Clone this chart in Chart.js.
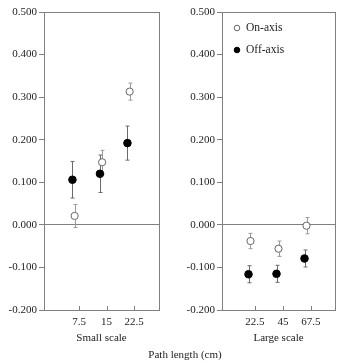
<!DOCTYPE html>
<html>
<head>
<meta charset="utf-8">
<script src="https://cdn.jsdelivr.net/npm/chart.js@4.4.1/dist/chart.umd.min.js"></script>
<style>
  body { margin: 0; background: #fff; }
  #wrap { position: relative; width: 340px; height: 364px; }
  #small { position: absolute; left: 0; top: 0; }
  #large { position: absolute; left: 170px; top: 0; }
  #xlab {
    position: absolute; left: 130px; top: 348px; width: 110px; text-align: center;
    font: 11px "Liberation Serif", "Times New Roman", serif; color: #222;
  }
</style>
</head>
<body>
<div id="wrap">
  <canvas id="small" width="170" height="364"></canvas>
  <canvas id="large" width="170" height="364"></canvas>
  <div id="xlab">Path length (cm)</div>
</div>
<script>
const smallLengths = [7.5, 15, 22.5];
const smallOn = [0.021, 0.147, 0.313];
const smallOnErr = [0.027, 0.028, 0.020];
const smallOff = [0.106, 0.120, 0.192];
const smallOffErr = [0.043, 0.044, 0.040];

const largeLengths = [22.5, 45, 67.5];
const largeOn = [-0.038, -0.056, -0.002];
const largeOnErr = [0.018, 0.018, 0.019];
const largeOff = [-0.116, -0.115, -0.079];
const largeOffErr = [0.020, 0.020, 0.020];

const serif = '"Liberation Serif", "Times New Roman", serif';
const grey = "#808080";

function pts(xs, ys, shift) {
  return xs.map((x, i) => ({ x: x + shift, y: ys[i] }));
}

// error bars, box, inner x ticks, legend
const extras = {
  id: "extras",
  beforeDatasetsDraw(chart) {
    const c = chart.ctx;
    const y = chart.scales.y;
    chart.data.datasets.forEach((ds, i) => {
      const meta = chart.getDatasetMeta(i);
      c.save();
      c.strokeStyle = ds.barColor;
      c.lineWidth = 1;
      meta.data.forEach((el, j) => {
        const v = ds.data[j].y, e = ds.err[j];
        const y1 = y.getPixelForValue(v + e), y2 = y.getPixelForValue(v - e);
        const x = Math.round(el.x) + 0.5;
        c.beginPath();
        c.moveTo(x, y1); c.lineTo(x, y2);
        c.moveTo(x - 2, y1); c.lineTo(x + 2, y1);
        c.moveTo(x - 2, y2); c.lineTo(x + 2, y2);
        c.stroke();
      });
      c.restore();
    });
  },
  afterDraw(chart, args, opts) {
    const c = chart.ctx;
    const a = chart.chartArea;
    const xs = chart.scales.x;
    c.save();
    c.strokeStyle = grey;
    c.lineWidth = 1;
    c.strokeRect(Math.round(a.left) + 0.5, Math.round(a.top) + 0.5,
      Math.round(a.right - a.left), Math.round(a.bottom - a.top));
    c.beginPath();
    xs.ticks.forEach(t => {
      const px = Math.round(xs.getPixelForValue(t.value)) + 0.5;
      c.moveTo(px, a.bottom); c.lineTo(px, a.bottom - 4);
    });
    c.stroke();
    if (opts.legend) {
      c.font = "11.5px " + serif;
      c.textBaseline = "middle";
      c.fillStyle = "#222";
      chart.data.datasets.forEach((ds, i) => {
        const ly = a.top + 16 + i * 22;
        const lx = a.left + 15;
        c.beginPath();
        c.arc(lx, ly, 2.8, 0, Math.PI * 2);
        c.fillStyle = ds.backgroundColor;
        c.fill();
        c.strokeStyle = ds.borderColor;
        c.stroke();
        c.fillStyle = "#222";
        c.fillText(ds.label, lx + 9, ly);
      });
    }
    c.restore();
  }
};

function makeChart(id, lengths, on, onErr, off, offErr, shifts, xMin, xMax, yWidth, padRight, title, legend) {
  return new Chart(document.getElementById(id), {
    type: "scatter",
    data: {
      datasets: [
        {
          label: "On-axis",
          data: pts(lengths, on, shifts[0]),
          err: onErr,
          barColor: "#9a9a9a",
          backgroundColor: "#ffffff",
          borderColor: "#666666",
          borderWidth: 1,
          pointRadius: 3.6,
        },
        {
          label: "Off-axis",
          data: pts(lengths, off, shifts[1]),
          err: offErr,
          barColor: "#6a6a6a",
          backgroundColor: "#000000",
          borderColor: "#000000",
          borderWidth: 1,
          pointRadius: 3.8,
        },
      ],
    },
    options: {
      responsive: false,
      animation: false,
      layout: { padding: { left: 0, right: padRight, top: 12, bottom: 19 } },
      plugins: {
        legend: { display: false },
        tooltip: { enabled: false },
        extras: { legend: legend },
      },
      scales: {
        x: {
          type: "linear",
          min: xMin,
          max: xMax,
          afterBuildTicks: (s) => { s.ticks = lengths.map(v => ({ value: v })); },
          afterFit: (s) => { s.height = 35; },
          grid: { display: false, drawTicks: false },
          border: { display: false },
          ticks: {
            padding: 6,
            color: "#222",
            font: { family: serif, size: 11 },
            callback: (v) => String(v),
            maxRotation: 0,
          },
          title: {
            display: true,
            text: title,
            color: "#222",
            font: { family: serif, size: 11 },
            padding: { top: 0, bottom: 0 },
          },
        },
        y: {
          min: -0.2,
          max: 0.5,
          afterFit: (s) => { s.width = yWidth; },
          ticks: {
            stepSize: 0.1,
            padding: 2,
            color: "#222",
            font: { family: serif, size: 11 },
            callback: (v) => (Math.abs(v) < 1e-9 ? 0 : v).toFixed(3),
          },
          grid: {
            drawTicks: true,
            tickLength: 5,
            tickColor: grey,
            color: (ctx) => (ctx.tick && Math.abs(ctx.tick.value) < 1e-9 ? grey : "rgba(0,0,0,0)"),
          },
          border: { display: false },
        },
      },
    },
    plugins: [extras],
  });
}

makeChart("small", smallLengths, smallOn, smallOnErr, smallOff, smallOffErr,
  [-1.2, -1.8], -2.05, 29.3, 44, 11, "Small scale", false);
makeChart("large", largeLengths, largeOn, largeOnErr, largeOff, largeOffErr,
  [-3.6, -5.2], -4, 86.8, 52, 5, "Large scale", true);
</script>
</body>
</html>
